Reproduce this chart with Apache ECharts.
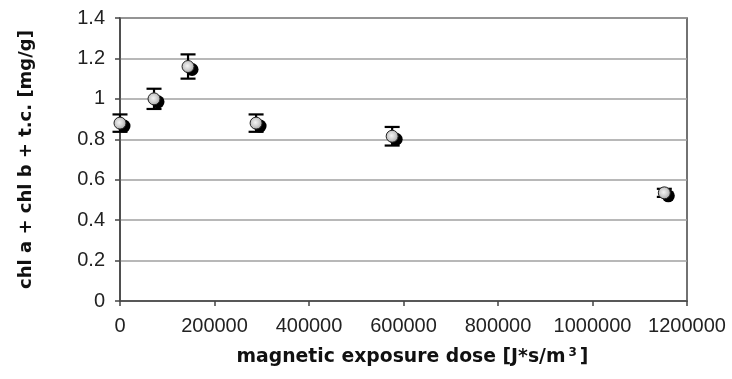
<!DOCTYPE html>
<html>
<head>
<meta charset="utf-8">
<script src="https://cdn.jsdelivr.net/npm/echarts@6/dist/echarts.min.js"></script>
<style>
  html, body { margin: 0; padding: 0; background: #fff; }
  #chart { width: 732px; height: 379px; }
</style>
</head>
<body>
<div id="chart"></div>
<script>
// Magnetic exposure dose [J*s/m^3]
const doses = [0, 72000, 144000, 288000, 576000, 1152000];
// Total chlorophyll + carotenoids [mg/g]
const pigment = [0.88, 1.00, 1.16, 0.88, 0.815, 0.535];
// Standard deviation of each mean
const pigmentErr = [0.043, 0.05, 0.06, 0.043, 0.046, 0.02];
// Axis tick labels
const xTicks = [0, 200000, 400000, 600000, 800000, 1000000, 1200000];
const yTicks = [0, 0.2, 0.4, 0.6, 0.8, 1, 1.2, 1.4];

const points = doses.map((d, i) => [d, pigment[i]]);
const errRows = doses.map((d, i) => [d, pigment[i] - pigmentErr[i], pigment[i] + pigmentErr[i]]);

const chart = echarts.init(document.getElementById('chart'), null, { renderer: 'canvas' });

const tickFont = { fontFamily: 'Liberation Sans, Arial, sans-serif', fontSize: 20, color: '#222' };
const titleFont = { fontFamily: 'DejaVu Sans, Liberation Sans, sans-serif', fontSize: 18, fontWeight: 'bold', color: '#111' };
const xTitleFont = Object.assign({}, titleFont, { fontSize: 18.8 });

chart.setOption({
  animation: false,
  backgroundColor: '#fff',
  grid: {
    left: 120, top: 18, width: 567, height: 283,
    show: true, borderColor: '#444', borderWidth: 1.5, backgroundColor: 'transparent'
  },
  xAxis: {
    type: 'value',
    min: xTicks[0], max: xTicks[xTicks.length - 1], interval: xTicks[1] - xTicks[0],
    name: '{t|magnetic exposure dose [J*s/m}{s|3}{t|]}',
    nameLocation: 'middle', nameGap: 46,
    nameTextStyle: {
      padding: [0, 0, 0, 18],
      rich: {
        t: Object.assign({}, xTitleFont),
        s: Object.assign({}, xTitleFont, { fontSize: 12, verticalAlign: 'top', padding: [0, 3, 8, 3] })
      }
    },
    axisLine: { show: true, lineStyle: { color: '#444', width: 1.5 } },
    axisTick: { show: true, inside: false, length: 5, lineStyle: { color: '#444', width: 1.5 } },
    axisLabel: Object.assign({ margin: 15, formatter: v => String(v) }, tickFont),
    splitLine: { show: false }
  },
  yAxis: {
    type: 'value',
    min: yTicks[0], max: yTicks[yTicks.length - 1], interval: 0.2,
    name: 'chl a + chl b + t.c. [mg/g]',
    nameLocation: 'middle', nameGap: 85,
    nameTextStyle: Object.assign({}, titleFont),
    axisLine: { show: true, lineStyle: { color: '#444', width: 1.5 } },
    axisTick: { show: true, inside: false, length: 5, lineStyle: { color: '#444', width: 1.5 } },
    axisLabel: Object.assign({ margin: 15, formatter: v => String(Math.round(v * 10) / 10) }, tickFont),
    splitLine: { show: true, lineStyle: { color: '#a0a0a0', width: 1.5 } }
  },
  series: [
    {
      // error bars with caps
      type: 'custom',
      z: 2,
      data: errRows,
      renderItem: function (params, api) {
        const x = api.value(0);
        const lo = api.coord([x, api.value(1)]);
        const hi = api.coord([x, api.value(2)]);
        const half = 7.5;
        const style = { stroke: '#000', lineWidth: 2.2 };
        return {
          type: 'group',
          children: [
            { type: 'line', shape: { x1: hi[0], y1: hi[1], x2: lo[0], y2: lo[1] }, style: style },
            { type: 'line', shape: { x1: hi[0] - half, y1: hi[1], x2: hi[0] + half, y2: hi[1] }, style: style },
            { type: 'line', shape: { x1: lo[0] - half, y1: lo[1], x2: lo[0] + half, y2: lo[1] }, style: style }
          ]
        };
      }
    },
    {
      // dark drop marker behind each point
      type: 'scatter',
      z: 3,
      data: points,
      symbol: 'circle',
      symbolSize: 13,
      symbolOffset: [4, 3],
      itemStyle: { color: '#000', opacity: 1 }
    },
    {
      type: 'scatter',
      z: 4,
      data: points,
      symbol: 'circle',
      symbolSize: 12,
      itemStyle: {
        opacity: 1,
        color: {
          type: 'radial', x: 0.45, y: 0.45, r: 0.6,
          colorStops: [
            { offset: 0, color: '#f4f4f4' },
            { offset: 0.5, color: '#cfcfcf' },
            { offset: 1, color: '#9a9a9a' }
          ]
        },
        borderColor: '#222',
        borderWidth: 1
      }
    }
  ]
});
</script>
</body>
</html>
